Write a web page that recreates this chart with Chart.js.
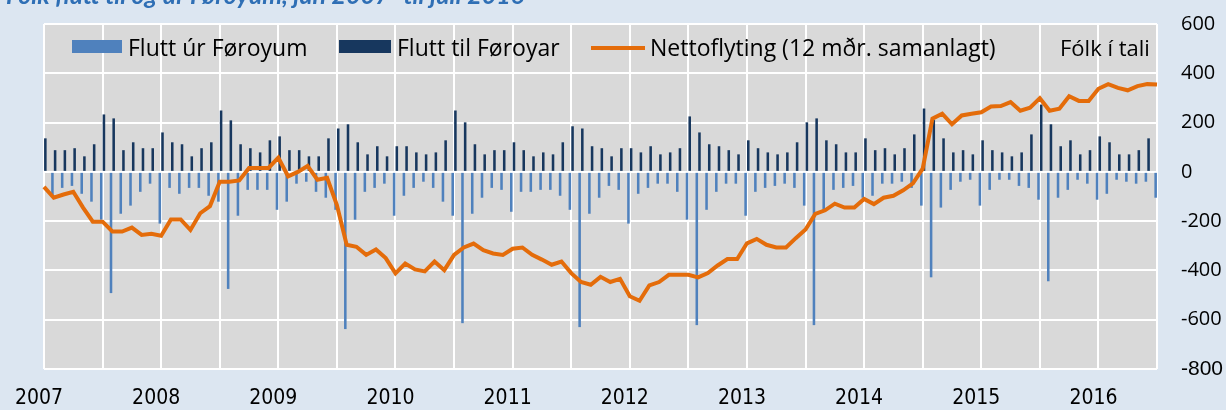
<!DOCTYPE html>
<html>
<head>
<meta charset="utf-8">
<script src="https://cdn.jsdelivr.net/npm/chart.js@4"></script>
<style>
  html, body { margin: 0; padding: 0; background: #dce6f1; overflow: hidden; }
  #wrap { position: relative; width: 1226px; height: 410px; }
  #chart { position: absolute; left: 0; top: 0; }
  .title { position: absolute; left: 6px; top: -18px; font: italic bold 25px Lato, sans-serif; line-height: 25px; color: #2f6fb5; white-space: nowrap; }
  .lg { position: absolute; font: 23px "Open Sans", sans-serif; line-height: 30px; top: 32px; color: #000; white-space: nowrap; }
  .sw { position: absolute; }
</style>
</head>
<body>
<div id="wrap">
  <canvas id="chart" width="1226" height="410"></canvas>
  <div class="title">Fólk flutt til og úr Føroyum, jan 2007- til juli 2016</div>
  <div class="sw" style="left:72px;top:40px;width:50px;height:13px;background:#4f81bd"></div>
  <div class="lg" style="left:128px">Flutt úr Føroyum</div>
  <div class="sw" style="left:339px;top:40px;width:52px;height:13px;background:#17375e"></div>
  <div class="lg" style="left:397px">Flutt til Føroyar</div>
  <div class="sw" style="left:591px;top:46px;width:54px;height:4px;background:#e46c0a"></div>
  <div class="lg" style="left:650px">Nettoflyting (12 mðr. samanlagt)</div>
  <div class="lg" style="left:1060px;font-size:22px">Fólk í tali</div>
</div>
<script>
// months jan 2007 - jul 2016
const years = ['2007', '2008', '2009', '2010', '2011', '2012', '2013', '2014', '2015', '2016'];
const months = [];
years.forEach(y => {
  for (let m = 1; m <= 12; m++) months.push(y + '-' + m);
});
months.length = 115;

// Flutt úr Føroyum (negative)
const outflow = [
  -80,
  -94, -65, -57, -89, -121, -194, -492, -170, -137, -81, -48, -210, -65, -89, -65,
  -65, -97, -121, -475, -178, -73, -73, -73, -154, -121, -48, -40, -81,
  -105, -154, -638, -194, -81, -65, -48, -178, -97, -65, -40, -65, -121, -178, -614,
  -170, -105, -65, -73, -162, -81, -81, -73, -73, -97, -154, -630, -170, -105,
  -57, -73, -210, -89, -65, -48, -48, -81, -194, -622, -154, -81, -48, -48, -178,
  -81, -65, -57, -48, -65, -137, -622, -154, -73, -65, -57, -105, -97,
  -48, -48, -40, -65, -137, -428, -145, -73, -40, -32, -137, -73, -32, -32, -57,
  -65, -113, -444, -105, -73, -32, -48, -113, -89, -32, -40, -48, -40, -105
];

// Flutt til Føroyar
const inflow = [
  136, 88, 88, 96, 63, 112, 233, 217, 88, 120, 96, 96, 160, 120, 112,
  63, 96, 120, 249, 209, 112, 96, 79, 128, 144, 88, 88, 63, 63,
  136, 176, 193, 120, 71, 104, 63, 104, 104, 79, 71, 79, 128, 249, 201,
  112, 71, 88, 88, 120, 88, 63, 79, 71, 120, 185, 176, 104,
  96, 63, 96, 96, 79, 104, 71, 79, 96, 225, 160, 112, 104, 88, 71,
  128, 96, 79, 71, 79, 120, 201, 217, 128, 112, 79, 79, 136, 88,
  96, 71, 96, 152, 257, 210, 136, 79, 88, 71, 128, 88, 79, 63, 79,
  152, 273, 193, 104, 128, 71, 88, 144, 120, 71, 71, 88, 136, 265
];

// Nettoflyting (12 mðr. samanlagt)
const net = [
  -61, -105, -92, -81, -145, -202, -202, -242, -242, -226, -256, -251, -259, -193, -193,
  -236, -168, -139, -40, -40, -35, 16, 16, 16, 58, -18, 0, 24, -32,
  -24, -135, -296, -304, -337, -315, -350, -412, -372, -396, -404, -364, -399, -337, -307,
  -291, -318, -331, -337, -312, -307, -337, -356, -377, -364, -411, -447, -458, -426,
  -447, -434, -505, -523, -461, -447, -418, -418, -418, -428, -411, -380, -354, -354, -290,
  -272, -296, -307, -307, -269, -234, -171, -156, -129, -145, -145, -110, -131,
  -105, -97, -75, -47, 13, 216, 236, 193, 229, 236, 242, 265, 267, 283, 248,
  260, 299, 248, 256, 307, 288, 288, 337, 356, 341, 331, 348, 356, 354
];

const yTicks = [-800, -600, -400, -200, 0, 200, 400, 600];

const plotBg = {
  id: 'plotBg',
  beforeDraw(chart) {
    const { ctx, chartArea: a } = chart;
    ctx.save();
    ctx.fillStyle = '#d9d9d9';
    ctx.fillRect(a.left, a.top, a.right - a.left, a.bottom - a.top);
    ctx.restore();
  }
};

new Chart(document.getElementById('chart'), {
  type: 'bar',
  data: {
    labels: months,
    datasets: [
      {
        label: 'Flutt úr Føroyum',
        data: outflow,
        backgroundColor: '#4f81bd',
        categoryPercentage: 0.55,
        barPercentage: 0.95,
        order: 2,
      },
      {
        label: 'Flutt til Føroyar',
        data: inflow,
        backgroundColor: '#17375e',
        categoryPercentage: 0.55,
        barPercentage: 0.95,
        order: 2,
      },
      {
        type: 'line',
        label: 'Nettoflyting (12 mðr. samanlagt)',
        data: net,
        borderColor: '#e46c0a',
        borderWidth: 4,
        pointRadius: 0,
        tension: 0,
        order: 0,
      },
    ],
  },
  options: {
    responsive: false,
    animation: false,
    layout: { padding: { left: 44, top: 24, right: 0, bottom: 0 } },
    plugins: {
      legend: { display: false },
      tooltip: { enabled: false },
    },
    scales: {
      x: {
        offset: false,
        grid: {
          offset: false,
          drawTicks: false,
          lineWidth: 2,
          color: c => (c.index % 6 === 0 ? '#ffffff' : 'rgba(0,0,0,0)'),
        },
        border: { display: false },
        ticks: {
          autoSkip: false,
          maxRotation: 0,
          padding: 17,
          labelOffset: -5,
          color: '#000',
          font: { family: '"Liberation Sans Narrow", "DejaVu Sans Condensed", sans-serif', size: 21 },
          callback: (v, i) => (i % 12 === 0 ? years[i / 12] : ''),
        },
        afterFit: s => { s.height = 41; },
      },
      y: {
        position: 'right',
        min: -800,
        max: 600,
        afterBuildTicks: s => { s.ticks = yTicks.map(v => ({ value: v })); },
        grid: { color: '#ffffff', lineWidth: 2, drawTicks: true, tickLength: 22, tickColor: 'rgba(0,0,0,0)' },
        border: { display: false },
        ticks: {
          padding: 2,
          color: '#000',
          font: c => (c.tick && c.tick.value === -800
            ? { family: '"Liberation Sans Narrow", sans-serif', size: 21 }
            : { family: '"Open Sans", sans-serif', size: 20 }),
        },
        afterFit: s => { s.width = 69; },
      },
    },
  },
  plugins: [plotBg],
});
</script>
</body>
</html>
